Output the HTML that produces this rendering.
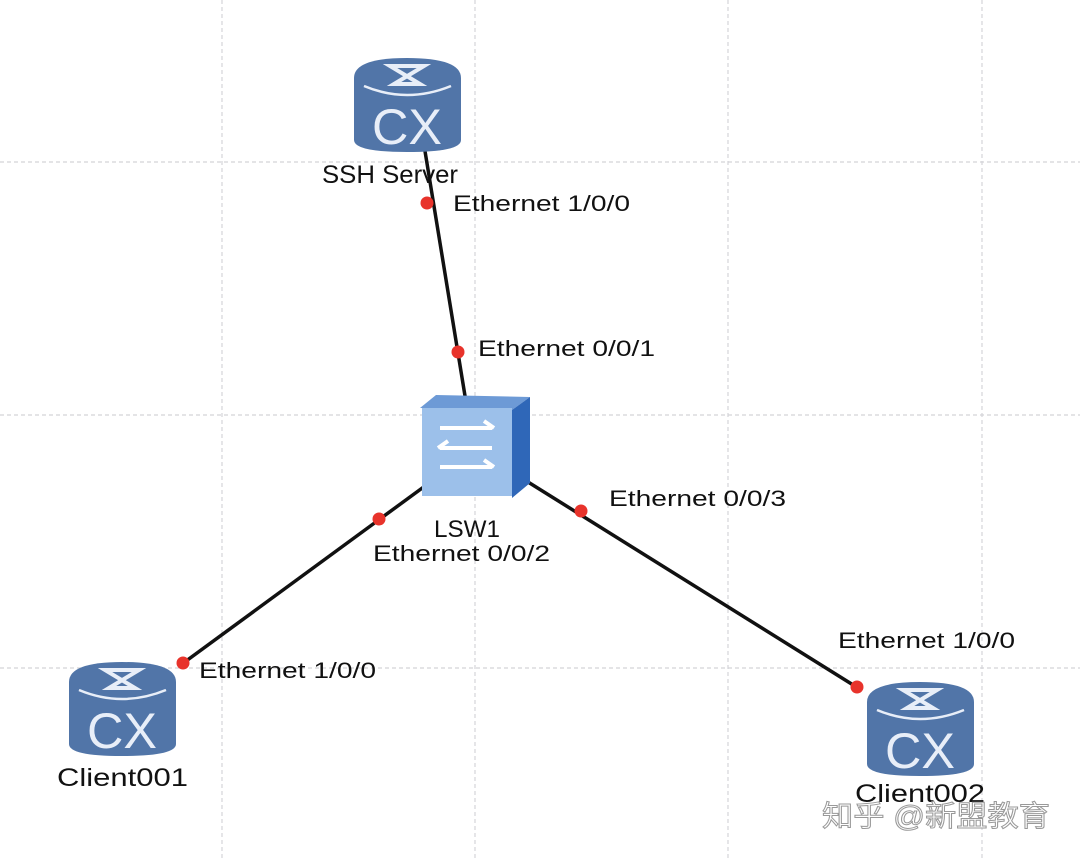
<!DOCTYPE html>
<html><head><meta charset="utf-8"><style>
html,body{margin:0;padding:0;background:#fff;}
svg{display:block;}
text{font-family:"Liberation Sans",Arial,sans-serif;}
</style></head><body>
<svg width="1080" height="860" viewBox="0 0 1080 860" xmlns="http://www.w3.org/2000/svg">
<defs>
<g id="rt">
  <path d="M2,22 Q2,2 55,2 Q109,2 109,22 L109,84 Q109,96 55,96 Q2,96 2,84 Z" fill="#5175a8"/>
  <path d="M12,30 Q55,48 99,30" fill="none" stroke="#e8eef8" stroke-width="2.5"/>
  <path d="M38,10 L72,10 L42,28 L68,28 Z" fill="none" stroke="#e8eef8" stroke-width="4" stroke-linejoin="miter"/>
  <text x="55" y="88" text-anchor="middle" font-size="50" fill="#e8eef8" textLength="70" lengthAdjust="spacingAndGlyphs">CX</text>
</g>
</defs>
<g stroke="#d4d4d8" stroke-width="1.2" stroke-dasharray="4,3">
  <line x1="222" y1="0" x2="222" y2="860"/>
  <line x1="475" y1="0" x2="475" y2="860"/>
  <line x1="728" y1="0" x2="728" y2="860"/>
  <line x1="982" y1="0" x2="982" y2="860"/>
  <line x1="0" y1="162" x2="1080" y2="162"/>
  <line x1="0" y1="415" x2="1080" y2="415"/>
  <line x1="0" y1="668" x2="1080" y2="668"/>
</g>
<g stroke="#111" stroke-width="3.5">
  <line x1="424" y1="145" x2="466" y2="402"/>
  <line x1="425" y1="486" x2="182" y2="664"/>
  <line x1="528" y1="482" x2="858" y2="688"/>
</g>
<use href="#rt" x="352" y="56"/>
<use href="#rt" x="67" y="660"/>
<use href="#rt" x="865" y="680"/>
<g>
  <path d="M420,408 L436,395 L530,397 L512,410 Z" fill="#6d9ad6"/>
  <path d="M512,410 L530,397 L530,483 L512,498 Z" fill="#2f67b8"/>
  <rect x="422" y="408" width="90" height="88" fill="#9cc0ea"/>
  <g stroke="#fff" stroke-width="4" fill="none">
    <path d="M440,428 L492,428 M484,421 L494,428"/>
    <path d="M492,448 L440,448 M448,441 L438,448"/>
    <path d="M440,467 L492,467 M484,460 L494,467"/>
  </g>
</g>
<g fill="#e8332b">
  <circle cx="427" cy="203" r="6.5"/>
  <circle cx="458" cy="352" r="6.5"/>
  <circle cx="379" cy="519" r="6.5"/>
  <circle cx="183" cy="663" r="6.5"/>
  <circle cx="581" cy="511" r="6.5"/>
  <circle cx="857" cy="687" r="6.5"/>
</g>
<g fill="#111" font-size="22" lengthAdjust="spacingAndGlyphs">
  <text x="322" y="183" font-size="25" textLength="136" lengthAdjust="spacingAndGlyphs">SSH Server</text>
  <text x="453" y="211" textLength="177" lengthAdjust="spacingAndGlyphs">Ethernet 1/0/0</text>
  <text x="478" y="356" textLength="177" lengthAdjust="spacingAndGlyphs">Ethernet 0/0/1</text>
  <text x="434" y="537" font-size="24" textLength="66" lengthAdjust="spacingAndGlyphs">LSW1</text>
  <text x="373" y="561" textLength="177" lengthAdjust="spacingAndGlyphs">Ethernet 0/0/2</text>
  <text x="609" y="506" textLength="177" lengthAdjust="spacingAndGlyphs">Ethernet 0/0/3</text>
  <text x="838" y="648" textLength="177" lengthAdjust="spacingAndGlyphs">Ethernet 1/0/0</text>
  <text x="199" y="678" textLength="177" lengthAdjust="spacingAndGlyphs">Ethernet 1/0/0</text>
  <text x="57" y="786" font-size="25" textLength="131" lengthAdjust="spacingAndGlyphs">Client001</text>
  <text x="855" y="802" font-size="25" textLength="130" lengthAdjust="spacingAndGlyphs">Client002</text>
</g>
<text x="822" y="826" font-size="29" fill="#fff" stroke="#999" stroke-width="1" textLength="228" lengthAdjust="spacingAndGlyphs" style="font-family:'Liberation Sans','Noto Sans CJK SC',sans-serif">知乎 @新盟教育</text>
</svg>
</body></html>
